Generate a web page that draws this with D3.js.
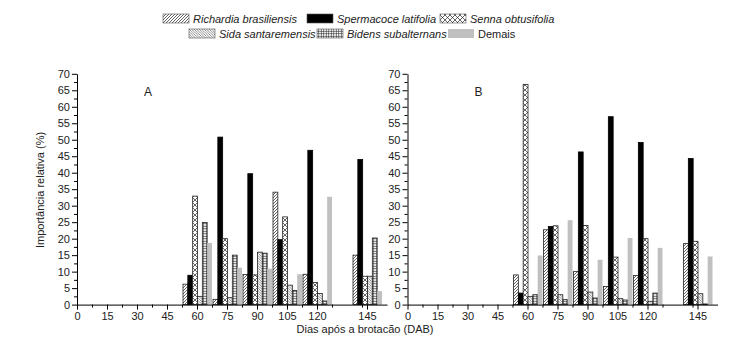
<!DOCTYPE html>
<html>
<head>
<meta charset="utf-8">
<script src="https://cdn.jsdelivr.net/npm/d3@7"></script>
<style>
  body { margin: 0; background: #fff; }
  svg { font-family: "Liberation Sans", Arial, sans-serif; }
</style>
</head>
<body>
<svg id="chart" width="730" height="337"></svg>
<script>
// days after sprouting (group centres)
const days = [60, 75, 90, 105, 120, 145];
const species = ['Richardia brasiliensis', 'Spermacoce latifolia', 'Senna obtusifolia',
  'Sida santaremensis', 'Bidens subalternans', 'Demais'];
const yTicks = d3.range(0, 71, 5);
const xTickLabels = [0, 15, 30, 45, 60, 75, 90, 105, 120, 145];

// panel A
const richardiaA = [6.2, 1.6, 9.1, 34.1, 9.2, 15.0];
const spermacoceA = [8.9, 50.8, 39.7, 19.7, 46.8, 44.0];
const sennaA = [32.9, 20.0, 9.0, 26.6, 6.7, 8.6];
const sidaA = [2.5, 2.1, 15.9, 5.9, 3.4, 8.6];
const bidensA = [24.9, 15.0, 15.6, 4.3, 1.1, 20.2];
const demaisA = [18.7, 11.2, 10.9, 9.2, 32.7, 4.1];

// panel B
const richardiaB = [9.0, 22.7, 10.0, 5.5, 8.8, 18.5];
const spermacoceB = [3.5, 23.7, 46.3, 57.0, 49.2, 44.3];
const sennaB = [66.8, 23.9, 24.0, 14.4, 20.0, 19.2];
const sidaB = [2.5, 3.0, 3.8, 1.8, 1.0, 3.3];
const bidensB = [3.0, 1.5, 2.0, 1.4, 3.5, 0.2];
const demaisB = [14.9, 25.6, 13.6, 20.2, 17.2, 14.6];

const panels = [
  { label: 'A', x0: 77, series: [richardiaA, spermacoceA, sennaA, sidaA, bidensA, demaisA] },
  { label: 'B', x0: 407.5, series: [richardiaB, spermacoceB, sennaB, sidaB, bidensB, demaisB] },
];

const svg = d3.select('#chart');
const defs = svg.append('defs');

// fill patterns
function hatch(id, size, paths, sw) {
  const p = defs.append('pattern').attr('id', id)
    .attr('patternUnits', 'userSpaceOnUse').attr('width', size).attr('height', size);
  p.append('rect').attr('width', size).attr('height', size).attr('fill', '#fff');
  paths.forEach(d => p.append('path').attr('d', d).attr('stroke', '#222')
    .attr('stroke-width', sw).attr('fill', 'none'));
}
hatch('pRich', 3, ['M0,3 L3,0', 'M-1,1 L1,-1', 'M2,4 L4,2'], 0.7);
hatch('pSenna', 5, ['M0,0 L5,5', 'M0,5 L5,0'], 0.7);
hatch('pSida', 2.5, ['M0,0 L2.5,2.5', 'M-1,1.5 L1,3.5', 'M1.5,-1 L3.5,1'], 0.5);
hatch('pBidens', 2.5, ['M0,1.25 L2.5,1.25', 'M1.25,0 L1.25,2.5'], 0.6);

const fills = ['url(#pRich)', '#000', 'url(#pSenna)', 'url(#pSida)', 'url(#pBidens)', '#c0c0c0'];
const strokes = ['#222', '#000', '#222', '#222', '#222', 'none'];

const yTop = 73.8, yBottom = 304.6;
const y = d3.scaleLinear().domain([0, 70]).range([yBottom, yTop]);
const inner = d3.scaleBand().domain(d3.range(species.length)).range([-14, 15]);

panels.forEach(panel => {
  const x = d3.scaleLinear().domain([0, 155]).range([panel.x0, panel.x0 + 310]);
  const g = svg.append('g');

  // bars
  panel.series.forEach((vals, si) => {
    g.selectAll(null).data(vals).join('rect')
      .attr('x', (v, i) => x(days[i]) + inner(si))
      .attr('y', v => y(v))
      .attr('width', inner.bandwidth())
      .attr('height', v => y(0) - y(v))
      .attr('fill', fills[si])
      .attr('stroke', strokes[si])
      .attr('stroke-width', 0.8);
  });

  // y axis with minor ticks
  g.append('g').attr('transform', `translate(${panel.x0},0)`)
    .call(d3.axisLeft(y).tickValues(d3.range(2.5, 70, 5)).tickSize(3).tickFormat(''))
    .call(a => a.select('.domain').remove());
  g.append('g').attr('transform', `translate(${panel.x0},0)`)
    .call(d3.axisLeft(y).tickValues(yTicks).tickSize(5).tickPadding(2).tickSizeOuter(0))
    .call(a => a.selectAll('text').attr('font-size', 11).attr('fill', '#222'));

  // x axis with minor ticks
  g.append('g').attr('transform', `translate(0,${yBottom})`)
    .call(d3.axisBottom(x).tickValues(d3.range(7.5, 155, 15)).tickSize(3).tickFormat(''))
    .call(a => a.select('.domain').remove());
  g.append('g').attr('transform', `translate(0,${yBottom})`)
    .call(d3.axisBottom(x).tickValues(xTickLabels).tickSize(5).tickPadding(3).tickSizeOuter(0))
    .call(a => a.selectAll('text').attr('font-size', 11).attr('fill', '#222'));

  g.append('text').attr('x', panel.x0 + 67).attr('y', 96)
    .attr('font-size', 12).attr('fill', '#222').text(panel.label);
});

// axis titles
svg.append('text').attr('transform', 'translate(44,190) rotate(-90)')
  .attr('text-anchor', 'middle').attr('font-size', 11).attr('fill', '#222')
  .text('Importância relativa (%)');
svg.append('text').attr('x', 365).attr('y', 333)
  .attr('text-anchor', 'middle').attr('font-size', 11).attr('fill', '#222')
  .text('Dias após a brotacão (DAB)');

// legend
const legendPos = [
  [163, 14], [307, 14], [440, 14],
  [189, 29], [317, 29], [448, 29],
];
const leg = svg.append('g');
species.forEach((s, i) => {
  const [lx, ly] = legendPos[i];
  leg.append('rect').attr('x', lx).attr('y', ly).attr('width', 26).attr('height', 9)
    .attr('fill', fills[i]).attr('stroke', strokes[i] === 'none' ? 'none' : '#555')
    .attr('stroke-width', 0.6);
  leg.append('text').attr('x', lx + 30).attr('y', ly + 8.5)
    .attr('font-size', 11).attr('fill', '#222')
    .attr('font-style', s === 'Demais' ? 'normal' : 'italic')
    .text(s);
});
</script>
</body>
</html>
